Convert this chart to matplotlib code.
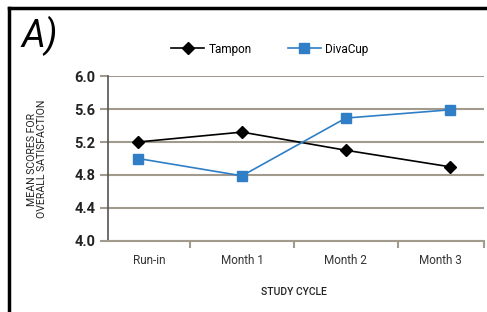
import matplotlib
matplotlib.use('Agg')
import matplotlib.pyplot as plt
from matplotlib.lines import Line2D

# data
cycles = ["Run-in", "Month 1", "Month 2", "Month 3"]
tampon = [5.20, 5.32, 5.10, 4.90]
divacup = [5.00, 4.79, 5.49, 5.59]
yticks = [4.0, 4.4, 4.8, 5.2, 5.6, 6.0]

grid_col = "#a39a8e"
blue = "#2f7ec6"

plt.rcParams['font.family'] = ['Roboto', 'DejaVu Sans']

fig = plt.figure(figsize=(4.87, 3.12), dpi=100)
ax = fig.add_axes([108 / 487, 1 - 241 / 312, 376 / 487, 165 / 312])

x = list(range(len(cycles)))
ax.plot(x, tampon, '-D', color='black', markersize=6, linewidth=1.2, label='Tampon', zorder=3)
ax.plot(x, divacup, '-s', color=blue, markersize=7, linewidth=1.2, label='DivaCup', zorder=3)

xmin, xmax = -0.29, 3.33
ax.set_xlim(xmin, xmax)
ax.set_ylim(4.0, 6.0)

ax.set_yticks(yticks)
ax.set_yticklabels(["%.1f" % v for v in yticks], fontsize=10.5, fontweight='bold', color='#222222')
ax.tick_params(axis='y', length=6, color=grid_col, width=1.5, pad=3)
ax.grid(axis='y', color=grid_col, linewidth=1.5, zorder=0)

# category ticks sit between the categories, labels centred in each gap
edges = [xmin, 0.5, 1.5, 2.5, xmax]
ax.set_xticks(edges[1:])
ax.set_xticklabels([])
ax.tick_params(axis='x', length=5, color=grid_col, width=1.5)
for i, name in enumerate(cycles):
    ax.text((edges[i] + edges[i + 1]) / 2, 3.84, name, ha='center', va='top',
            fontsize=8.5, color='#333333')

for s in ['top', 'right']:
    ax.spines[s].set_visible(False)
ax.spines['left'].set_color('#555555')
ax.spines['left'].set_linewidth(1.2)
ax.spines['bottom'].set_color(grid_col)
ax.spines['bottom'].set_linewidth(1.5)

ax.text(1.5, 3.44, "STUDY CYCLE", ha='center', va='top', fontsize=7.5,
        fontweight='medium', color='#222222')
fig.text(0.075, (1 - 159 / 312), "MEAN SCORES FOR\nOVERALL SATISFACTION", rotation=90,
         ha='center', va='center', fontsize=7.6, color='#222222', linespacing=1.0)

ax.legend(loc='center', bbox_to_anchor=((270 - 108) / 376, 1 + 27 / 165),
          ncol=2, frameon=False, fontsize=8.5, handlelength=2.8, columnspacing=3.0,
          handletextpad=0.4)

fig.text(21 / 487, 1 - 36 / 312, "A)", fontsize=27, fontstyle='italic', fontweight='normal',
         va='center', ha='left')

# outer frame, left and top only
fig.add_artist(Line2D([9 / 487, 9 / 487], [0, 1 - 8 / 312], color='black', linewidth=2.5))
fig.add_artist(Line2D([9 / 487, 1], [1 - 8 / 312, 1 - 8 / 312], color='black', linewidth=2.5))

fig.savefig("out.png", dpi=100)
